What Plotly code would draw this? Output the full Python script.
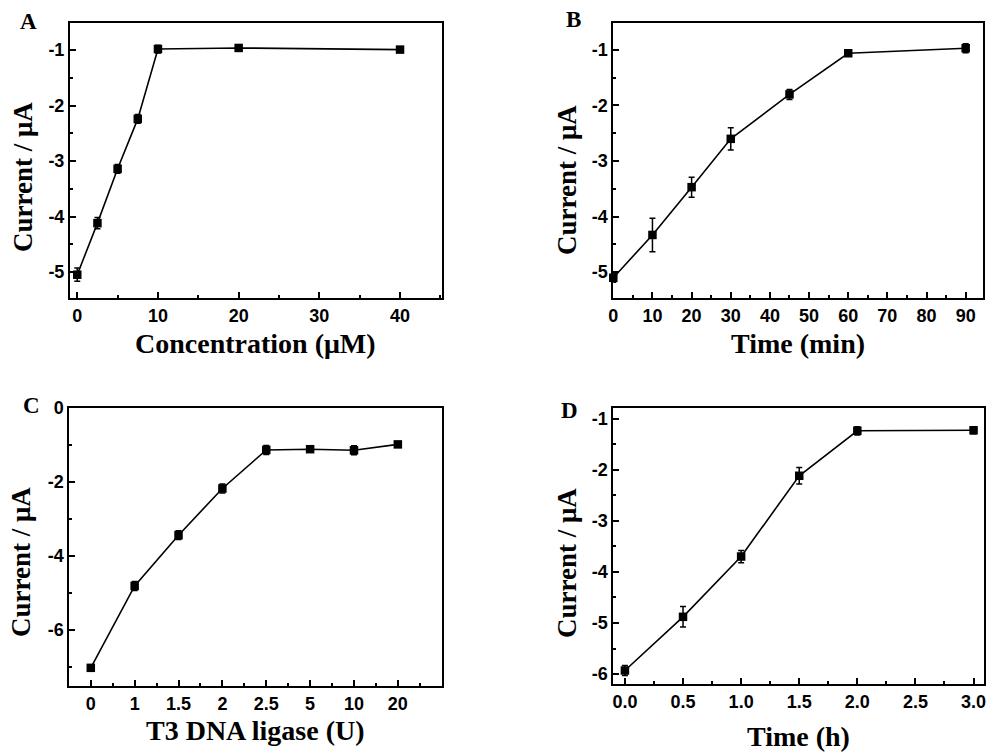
import plotly.graph_objects as go

# Panel A
conc_x = [0, 2.5, 5, 7.5, 10, 20, 40]
conc_y = [-5.05, -4.12, -3.14, -2.24, -0.98, -0.96, -0.99]
conc_err = [0.12, 0.1, 0.08, 0.08, 0.07, 0.05, 0.04]
# Panel B
tmin_x = [0, 10, 20, 30, 45, 60, 90]
tmin_y = [-5.1, -4.33, -3.47, -2.6, -1.8, -1.06, -0.97]
tmin_err = [0.08, 0.3, 0.18, 0.2, 0.09, 0.04, 0.08]
# Panel C
lig_labels = ["0", "1", "1.5", "2", "2.5", "5", "10", "20"]
lig_y = [-7.02, -4.81, -3.44, -2.18, -1.14, -1.12, -1.15, -0.99]
lig_err = [0.05, 0.12, 0.12, 0.12, 0.12, 0.06, 0.12, 0.05]
# Panel D
th_x = [0, 0.5, 1.0, 1.5, 2.0, 3.0]
th_y = [-5.93, -4.88, -3.7, -2.12, -1.24, -1.23]
th_err = [0.1, 0.2, 0.12, 0.16, 0.08, 0.07]

# tick values / labels (hyphen minus as in the reference)
yticks_ab = [-5, -4, -3, -2, -1]
yticks_c = [-6, -4, -2, 0]
yticks_d = [-6, -5, -4, -3, -2, -1]
xticks_a = [0, 10, 20, 30, 40]
xticks_b = [0, 10, 20, 30, 40, 50, 60, 70, 80, 90]
xticks_d = [0, 0.5, 1.0, 1.5, 2.0, 2.5, 3.0]

def lab(vals, fmt="{:g}"):
    return [fmt.format(v) for v in vals]

W, H = 990, 753
fig = go.Figure()

def trace(x, y, e, xa, ya):
    fig.add_trace(go.Scatter(
        x=x, y=y, xaxis=xa, yaxis=ya, mode="lines+markers",
        line=dict(color="black", width=1.6),
        marker=dict(symbol="square", size=8.5, color="black"),
        error_y=dict(type="data", array=e, visible=True, color="black", thickness=1.5, width=3),
        showlegend=False, cliponaxis=False))

trace(conc_x, conc_y, conc_err, "x", "y")
trace(tmin_x, tmin_y, tmin_err, "x2", "y2")
trace(list(range(len(lig_labels))), lig_y, lig_err, "x3", "y3")
trace(th_x, th_y, th_err, "x4", "y4")

tickfont = dict(family="Liberation Sans", size=18, color="black", weight="bold")
common = dict(showline=True, linewidth=2, linecolor="black", mirror=True,
              ticks="inside", ticklen=6, tickwidth=1.5, tickcolor="black",
              showgrid=False, zeroline=False, tickfont=tickfont, tickmode="array",
              automargin=False)

def px_dom_x(a, b):
    return [a / W, b / W]

def px_dom_y(top, bottom):
    return [1 - bottom / H, 1 - top / H]

def minor(d, t0):
    return dict(ticks="inside", ticklen=3, tickwidth=1.5, tickcolor="black",
                tickmode="linear", dtick=d, tick0=t0, showgrid=False)

fig.update_layout(
    width=W, height=H, margin=dict(l=0, r=0, t=0, b=0),
    paper_bgcolor="white", plot_bgcolor="white",
    xaxis=dict(common, domain=px_dom_x(70, 442), anchor="y", range=[-0.9, 45.2],
               tickvals=xticks_a, ticktext=lab(xticks_a), minor=minor(5, 0)),
    yaxis=dict(common, domain=px_dom_y(23, 298), anchor="x", range=[-5.47, -0.51],
               tickvals=yticks_ab, ticktext=lab(yticks_ab), minor=minor(0.5, 0)),
    xaxis2=dict(common, domain=px_dom_x(613.3, 983.3), anchor="y2", range=[0, 94.5],
                tickvals=xticks_b, ticktext=lab(xticks_b), minor=minor(5, 0)),
    yaxis2=dict(common, domain=px_dom_y(22.7, 298.3), anchor="x2", range=[-5.47, -0.51],
                tickvals=yticks_ab, ticktext=lab(yticks_ab), minor=minor(0.5, 0)),
    xaxis3=dict(common, domain=px_dom_x(69.3, 441.7), anchor="y3", range=[-0.49, 8.0],
                tickvals=list(range(len(lig_labels))), ticktext=lig_labels,
                minor=minor(1, -0.5)),
    yaxis3=dict(common, domain=px_dom_y(407.7, 686), anchor="x3", range=[-7.51, 0],
                tickvals=yticks_c, ticktext=lab(yticks_c), minor=minor(1, 0)),
    xaxis4=dict(common, domain=px_dom_x(613.3, 984), anchor="y4", range=[-0.1, 3.09],
                tickvals=xticks_d, ticktext=lab(xticks_d, "{:.1f}"), minor=minor(0.25, 0)),
    yaxis4=dict(common, domain=px_dom_y(408.3, 684.3), anchor="x4", range=[-6.2, -0.8],
                tickvals=yticks_d, ticktext=lab(yticks_d), minor=minor(0.5, 0)),
)

xtitlefont = dict(family="Liberation Serif", size=28, color="black")
ytitlefont = dict(family="Liberation Serif", size=27, color="black")
letterfont = dict(family="Liberation Serif", size=23, color="black")

def ann(text, x, y, font, angle=0):
    fig.add_annotation(text="<b>" + text + "</b>", x=x / W, y=1 - y / H, xref="paper", yref="paper",
                       showarrow=False, font=font, textangle=angle, xanchor="center", yanchor="middle")

ann("Concentration (μM)", 255, 343, xtitlefont)
ann("Time (min)", 798, 343, xtitlefont)
ann("T3 DNA ligase (U)", 255, 730, xtitlefont)
ann("Time (h)", 798, 736, xtitlefont)
ann("Current / μA", 23, 177, ytitlefont, -90)
ann("Current / μA", 567, 180, ytitlefont, -90)
ann("Current / μA", 21, 562, ytitlefont, -90)
ann("Current / μA", 567, 563, ytitlefont, -90)
ann("A", 28, 22, letterfont)
ann("B", 573, 20, letterfont)
ann("C", 31, 405, letterfont)
ann("D", 569, 411, letterfont)

fig.write_html("out.html", config={"displayModeBar": False},
               post_script="document.body.style.margin='0';document.body.style.overflow='hidden';")
